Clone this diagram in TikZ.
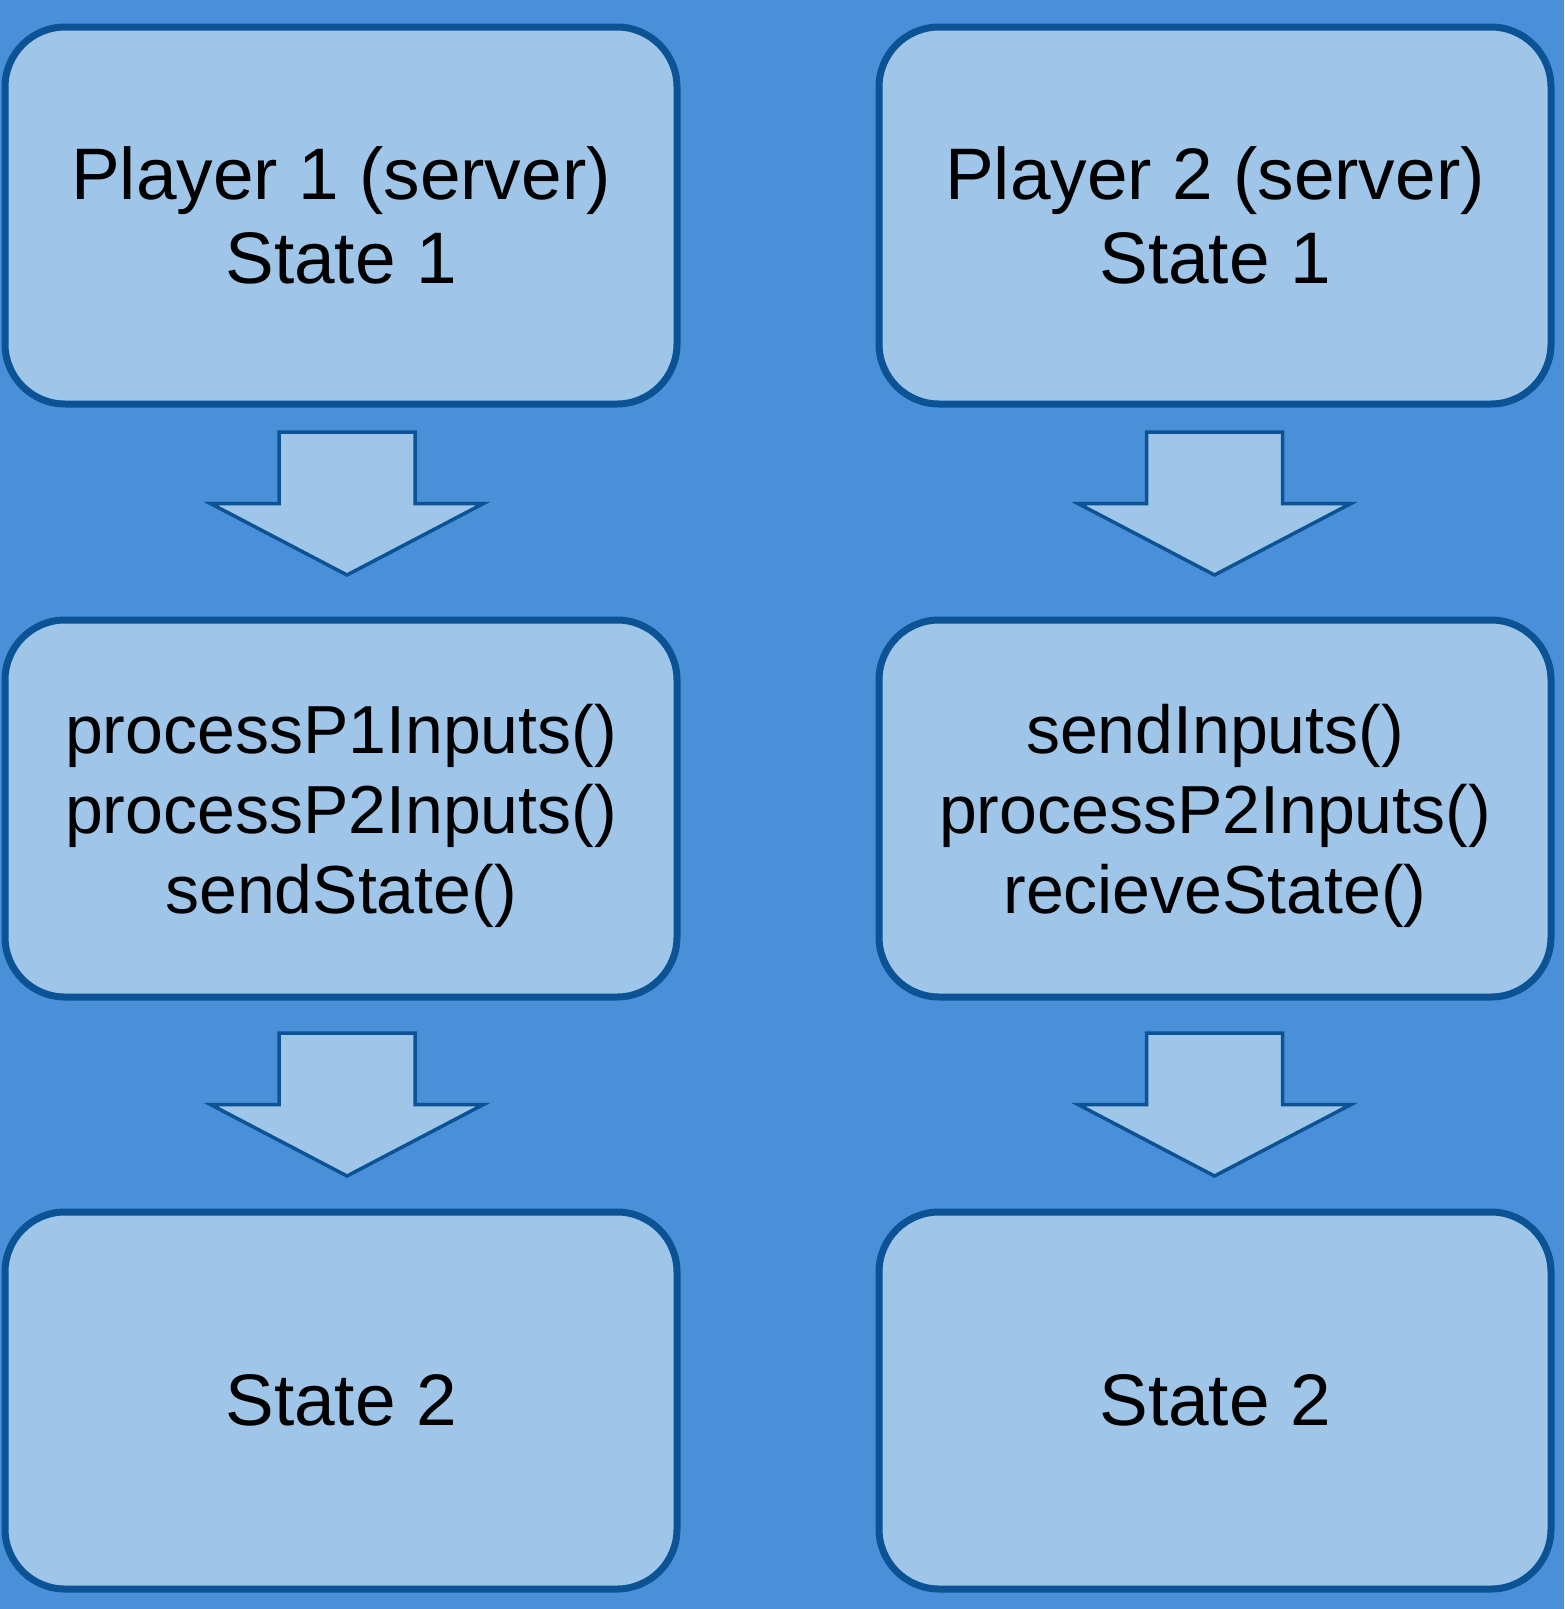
\documentclass[tikz,border=0pt]{standalone}
\usepackage{fontspec}
\setmainfont{Liberation Sans}
\definecolor{bgblue}{HTML}{4A90D9}
\definecolor{boxfill}{HTML}{9FC5E8}
\definecolor{boxline}{HTML}{0B5394}
\begin{document}
\begin{tikzpicture}[x=1pt,y=-1pt,
  box/.style={draw=boxline, fill=boxfill, line width=7pt, rounded corners=60pt,
    minimum width=672pt, minimum height=377pt, inner sep=0pt, align=center,
    text=black},
  bigtxt/.style={font=\fontsize{73pt}{84pt}\selectfont},
  midtxt/.style={font=\fontsize{68pt}{80pt}\selectfont, align=center, inner sep=0pt, text=black},
  blockarrow/.style={draw=boxline, fill=boxfill, line width=3.5pt, line join=miter}]
\useasboundingbox (0,0) rectangle (1564,1609);
\fill[bgblue] (0,0) rectangle (1564,1609);

\node[box, bigtxt] (p1s1) at (341,215.5) {Player 1 (server)\\State 1};
\node[box, bigtxt] (p2s1) at (1215,215.5) {Player 2 (server)\\State 1};
\node[box] (p1mid) at (341,808.5) {};
\node[midtxt] (p1midtxt) at ([yshift=-7pt]p1mid.center) {processP1Inputs()\\processP2Inputs()\\sendState()};
\node[box] (p2mid) at (1215,808.5) {};
\node[midtxt] (p2midtxt) at ([yshift=-7pt]p2mid.center) {sendInputs()\\processP2Inputs()\\recieveState()};
\node[box, bigtxt] (p1s2) at (341,1400.5) {State 2};
\node[box, bigtxt] (p2s2) at (1215,1400.5) {State 2};

% block arrows: centre x, top y
\newcommand{\blockarr}[2]{%
  \draw[blockarrow] (#1-68,#2) -- (#1+68,#2) -- (#1+68,#2+71.5) -- (#1+136.5,#2+71.5)
    -- (#1,#2+143) -- (#1-136.5,#2+71.5) -- (#1-68,#2+71.5) -- cycle;}
\blockarr{347}{432}
\blockarr{1214.5}{432}
\blockarr{347}{1033}
\blockarr{1214.5}{1033}
\end{tikzpicture}
\end{document}
